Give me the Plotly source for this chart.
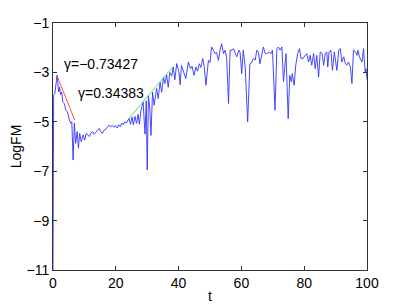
import math
import plotly.graph_objects as go

# Blue series: LogFM over time t
t_vals = [0, 0.2, 0.6, 0.9, 1.3, 1.8, 2.1, 2.4, 2.8, 3.1, 3.6, 4.1, 4.6, 5.2, 5.7, 6.0, 6.4, 6.8, 7.2, 7.7,
          8.1, 8.5, 9.0, 9.6, 10.1, 10.6, 11.1, 11.6, 12.1, 12.6, 13.1, 13.6, 14.1, 14.7, 15.2, 15.7, 16.2, 16.8,
          17.3, 17.9, 18.4, 18.9, 19.4, 19.9, 20.4, 20.9, 21.4, 21.9, 22.4, 22.9, 23.4, 23.9, 24.2,
          24.7, 25.2, 25.6, 26.1, 26.6, 27.1, 27.5, 28.0, 28.7, 29.3, 29.7, 30.0, 30.4, 30.8, 31.2, 31.7, 32.2,
          32.6, 33.0, 33.5, 34.1, 34.6, 35.2, 35.6, 36.2, 36.7, 37.2, 37.8, 38.3, 38.8, 39.4, 40.1,
          40.5, 40.9, 41.5, 42.3, 43.1, 43.8, 44.3, 44.9, 45.5, 46.0, 46.6, 47.1, 47.7, 48.2, 48.7, 49.5, 50.0,
          50.5, 51.1, 51.6, 52.1, 52.7, 53.2, 53.7, 54.3, 54.8, 55.3, 55.9, 56.4, 57.0, 57.5, 58.0, 58.5, 59.2,
          59.6, 60.1, 60.6, 61.2, 62.0, 62.7, 63.3, 63.8, 64.4, 64.9, 65.4, 65.9, 66.5, 67.0, 67.6, 68.1, 68.8,
          69.4, 69.9, 70.7, 71.3, 71.8, 72.3, 72.9, 73.4, 74.2, 74.9, 75.4, 75.9, 76.2, 76.8, 77.3, 77.9, 78.5,
          79.0, 79.6, 80.3, 80.8, 81.4, 81.9, 82.4, 83.0, 83.5, 84.0, 84.6, 85.1, 85.7, 86.2, 86.7, 87.2, 87.5,
          87.9, 88.5, 89.0, 89.6, 90.4, 91.0, 91.5, 92.0, 92.6, 93.1, 93.6, 94.1, 94.7, 95.2, 95.7, 96.3, 96.8,
          97.1, 97.6, 98.4, 98.9, 99.4, 99.7, 100]
logfm_vals = [-11, -3.92, -3.85, -3.5, -3.11, -3.79, -3.59, -3.9, -3.8, -4.19, -4.26, -4.53, -4.6, -4.93, -5.06,
              -5.0, -6.55, -5.06, -5.87, -5.4, -6.07, -5.47, -5.8, -5.53, -5.74, -5.47, -5.55, -5.6, -5.45, -5.4,
              -5.5, -5.42, -5.35, -5.27, -5.4, -5.47, -5.35, -5.3, -5.22, -5.13, -5.2, -5.15, -5.22, -5.15, -5.25,
              -5.12, -5.2, -5.05, -5.12, -5.0, -5.05, -4.9, -4.86,
              -5.1, -4.8, -5.13, -4.78, -5.06, -4.7, -5.1, -4.55, -4.2, -5.5, -4.15, -6.95, -3.95, -4.4, -5.55,
              -3.8, -4.33, -3.9, -3.65, -4.06, -3.4, -3.8, -3.2, -3.45, -3.1, -3.6, -3.0, -3.15, -2.78, -3.3,
              -2.64, -2.98,
              -3.5, -2.72, -2.98, -3.25, -2.58, -2.85, -2.75, -3.12, -2.78, -2.95, -2.65, -2.8, -2.44, -2.8, -3.52,
              -2.51, -2.6, -1.97, -2.1, -2.24, -2.2, -2.51, -2.1, -1.84, -2.24, -2.1, -2.4, -4.26, -2.1, -2.1,
              -2.04, -2.25, -2.37, -2.1, -2.2, -3.05, -2.1, -2.77, -5.0, -2.65, -2.6, -2.44, -2.5, -2.1, -2.17,
              -2.65, -2.24, -1.97, -2.24, -2.24, -2.17, -2.24, -2.1, -4.53, -2.04, -1.97, -2.1, -1.97, -3.38,
              -2.24, -4.87, -3.12, -3.38, -3.05, -3.52, -2.71, -2.24, -2.04, -2.44, -2.44,
              -2.31, -2.24, -2.58, -2.31, -2.71, -2.24, -2.85, -2.31, -3.19, -2.17, -2.24, -2.71, -2.24, -2.17,
              -2.78, -2.17, -2.1, -2.92, -2.17, -2.92, -2.1, -2.04, -2.58, -2.37, -2.65, -2.71, -2.58, -2.78,
              -3.45, -2.1, -2.17, -2.31, -2.1, -2.37, -2.58, -2.04, -2.98, -2.85, -3.3]

# Fitted slopes (gamma, natural-log rate) and fit windows
fit_gamma = [-0.73427, 0.34383]
fit_t_start = [1.3, 24.2]
fit_t_end = [6.9, 38.3]
fit_y_start = [-3.14, -4.86]
fit_colors = ["#ff4040", "#40e040"]
label_t = [3.0, 7.2]
label_y = [-2.67, -3.84]

x_ticks = [0, 20, 40, 60, 80, 100]
y_ticks = [-11, -9, -7, -5, -3, -1]

fig = go.Figure()
fig.add_trace(go.Scatter(x=t_vals, y=logfm_vals, mode="lines",
                         line=dict(color="#3333ff", width=0.9), showlegend=False))

for g, t0, t1, y0, c in zip(fit_gamma, fit_t_start, fit_t_end, fit_y_start, fit_colors):
    slope = g / math.log(10)
    fig.add_trace(go.Scatter(x=[t0, t1], y=[y0, y0 + slope * (t1 - t0)], mode="lines",
                             line=dict(color=c, width=0.9), showlegend=False))

for g, tx, ty in zip(fit_gamma, label_t, label_y):
    txt = "γ=" + ("−" if g < 0 else "") + f"{abs(g):.5f}"
    fig.add_annotation(x=tx, y=ty, text=txt, showarrow=False, xanchor="left", yanchor="middle",
                       font=dict(size=14, color="black"))

axis_common = dict(showline=True, linecolor="#333333", linewidth=1, mirror="ticks", ticks="inside",
                   ticklen=4, tickcolor="#333333", showgrid=False, zeroline=False, automargin=False,
                   tickfont=dict(size=14, color="black"))
fig.update_xaxes(range=[0, 100], tickvals=x_ticks, title=dict(text="t", font=dict(size=14), standoff=3),
                 **axis_common)
fig.update_yaxes(range=[-11, -1], tickvals=y_ticks, title=dict(text="LogFM", font=dict(size=14), standoff=6),
                 **axis_common)

# page body adds an 8px offset, so the figure is 8px smaller on each side
fig.update_layout(width=397, height=296, margin=dict(l=45, r=38, t=15, b=34),
                  plot_bgcolor="white", paper_bgcolor="white",
                  font=dict(family="Liberation Sans, Arial, sans-serif", color="black"))

fig.write_html("out.html", config={"displayModeBar": False})
